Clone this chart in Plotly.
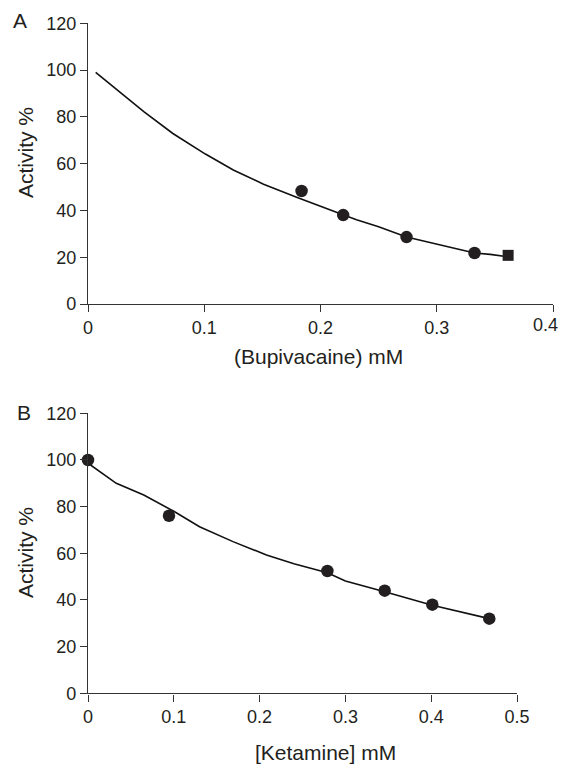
import plotly.graph_objects as go

# Panel A: Bupivacaine
bupi_x = [0.1837, 0.2195, 0.274, 0.3325]
bupi_y = [48.3, 38.0, 28.6, 21.8]
bupi_sq_x = [0.3614]
bupi_sq_y = [20.8]
bupi_fit_x = [0.0066, 0.025, 0.048, 0.073, 0.101, 0.125, 0.151, 0.18, 0.20, 0.22, 0.231, 0.25, 0.274, 0.297, 0.315, 0.3325, 0.346, 0.361]
bupi_fit_y = [99.0, 91.5, 82.2, 72.9, 64.1, 57.3, 51.2, 45.5, 41.6, 38.0, 36.0, 33.0, 28.6, 26.0, 24.0, 21.8, 21.2, 20.2]

# Panel B: Ketamine
ket_x = [0.0, 0.0944, 0.279, 0.3458, 0.4013, 0.4677]
ket_y = [100.0, 76.1, 52.4, 44.0, 38.0, 32.0]
ket_fit_x = [0.0, 0.033, 0.065, 0.1, 0.13, 0.169, 0.208, 0.24, 0.279, 0.30, 0.3458, 0.4013, 0.4677]
ket_fit_y = [98.6, 90.0, 85.0, 78.0, 71.4, 65.0, 59.3, 55.5, 51.7, 48.1, 43.5, 37.7, 32.0]

xticks_a = [0, 0.1, 0.2, 0.3, 0.4]
xticks_a_text = ["0", "0.1", "0.2", "0.3", "0.4"]
xticks_b = [0, 0.1, 0.2, 0.3, 0.4, 0.5]
xticks_b_text = ["0", "0.1", "0.2", "0.3", "0.4", "0.5"]
yticks = [0, 20, 40, 60, 80, 100, 120]
yticks_text = ["0", "20", "40", "60", "80", "100", "120"]

OFF = 8  # page body margin
W, H = 569 - OFF, 765 - OFF
FONT = "Liberation Sans, Arial, sans-serif"
INK = "#231f20"
AX = "#333333"
FS_TICK = 18
FS_TITLE = 21

def px_x(p):
    return (p - OFF) / W

def px_y(p):
    return 1 - (p - OFF) / H

fig = go.Figure()

fig.add_trace(go.Scatter(x=bupi_fit_x, y=bupi_fit_y, mode="lines",
                         line=dict(color="#111111", width=1.6), xaxis="x", yaxis="y",
                         showlegend=False, hoverinfo="skip"))
fig.add_trace(go.Scatter(x=bupi_x, y=bupi_y, mode="markers",
                         marker=dict(symbol="circle", size=12.5, color=INK), xaxis="x", yaxis="y",
                         showlegend=False, cliponaxis=False))
fig.add_trace(go.Scatter(x=bupi_sq_x, y=bupi_sq_y, mode="markers",
                         marker=dict(symbol="square", size=11, color=INK), xaxis="x", yaxis="y",
                         showlegend=False, cliponaxis=False))

fig.add_trace(go.Scatter(x=ket_fit_x, y=ket_fit_y, mode="lines",
                         line=dict(color="#111111", width=1.6), xaxis="x2", yaxis="y2",
                         showlegend=False, hoverinfo="skip"))
fig.add_trace(go.Scatter(x=ket_x, y=ket_y, mode="markers",
                         marker=dict(symbol="circle", size=12.5, color=INK), xaxis="x2", yaxis="y2",
                         showlegend=False, cliponaxis=False))

axis_common = dict(showline=True, linecolor=AX, linewidth=1.4, ticks="outside",
                   ticklen=7, tickwidth=1.2, tickcolor=AX, showgrid=False, zeroline=False,
                   automargin=False,
                   tickfont=dict(family=FONT, size=FS_TICK, color=INK), fixedrange=True)

# last tick label of panel A is drawn as a right-aligned annotation so it stays inside the view
xticks_a_axis_text = xticks_a_text[:-1] + [""]

fig.update_layout(
    template="none",
    width=W, height=H,
    margin=dict(l=0, r=0, t=0, b=0, pad=0),
    paper_bgcolor="white", plot_bgcolor="white",
    xaxis=dict(domain=[px_x(88), px_x(553)], range=[0, 0.4], anchor="y",
               tickvals=xticks_a, ticktext=xticks_a_axis_text, **axis_common),
    yaxis=dict(domain=[px_y(304), px_y(23.3)], range=[0, 120], anchor="x",
               tickvals=yticks, ticktext=yticks_text, **axis_common),
    xaxis2=dict(domain=[px_x(88), px_x(517)], range=[0, 0.5], anchor="y2",
                tickvals=xticks_b, ticktext=xticks_b_text, **axis_common),
    yaxis2=dict(domain=[px_y(693.3), px_y(413.3)], range=[0, 120], anchor="x2",
                tickvals=yticks, ticktext=yticks_text, **axis_common),
)

ann_font = dict(family=FONT, size=FS_TITLE, color=INK)
C = dict(xref="paper", yref="paper", showarrow=False, xanchor="center", yanchor="middle")
annotations = [
    dict(text="A", x=px_x(20), y=px_y(20), font=ann_font, **C),
    dict(text="B", x=px_x(24), y=px_y(413), font=ann_font, **C),
    dict(text="Activity %", x=px_x(25), y=px_y(153), textangle=-90, font=ann_font, **C),
    dict(text="Activity %", x=px_x(25), y=px_y(553), textangle=-90, font=ann_font, **C),
    dict(text="(Bupivacaine) mM", x=px_x(318), y=px_y(356), font=ann_font, **C),
    dict(text="[Ketamine] mM", x=px_x(325), y=px_y(752), font=ann_font, **C),
    dict(text=xticks_a_text[-1], x=px_x(560), xanchor="right", yanchor="middle",
         y=px_y(325), xref="paper", yref="paper", showarrow=False,
         font=dict(family=FONT, size=FS_TICK, color=INK)),
]
fig.update_layout(annotations=annotations)

fig.write_html("out.html")
